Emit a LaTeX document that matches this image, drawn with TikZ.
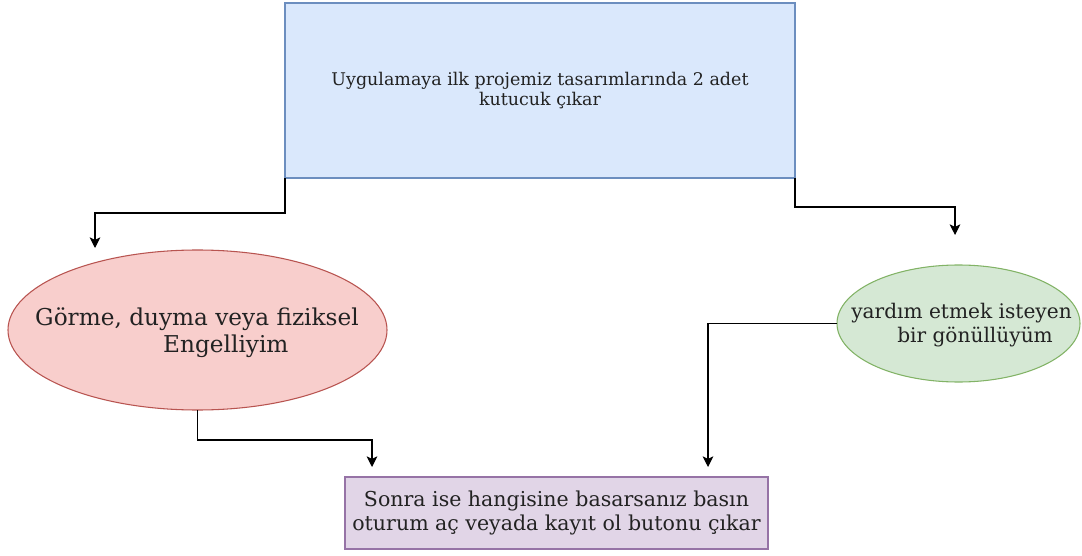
\documentclass[tikz,border=0pt]{standalone}
\usepackage{fontspec}
\setmainfont{DejaVu Serif}
\usetikzlibrary{shapes.geometric,arrows.meta}
\definecolor{bluefill}{HTML}{DAE8FC}
\definecolor{bluedraw}{HTML}{6C8EBF}
\definecolor{redfill}{HTML}{F8CECC}
\definecolor{reddraw}{HTML}{B85450}
\definecolor{greenfill}{HTML}{D5E8D4}
\definecolor{greendraw}{HTML}{82B366}
\definecolor{purplefill}{HTML}{E1D5E7}
\definecolor{purpledraw}{HTML}{9673A6}
\definecolor{txt}{HTML}{222222}
\tikzset{
  boxstyle/.style={rectangle, line width=0.8pt, inner sep=0pt, outer sep=0pt, text=txt, align=center},
  ellstyle/.style={ellipse, line width=0.8pt, inner sep=0pt, outer sep=0pt},
  labelstyle/.style={inner sep=0pt, text=txt, align=left},
  arr/.style={draw=black, line width=0.8pt, -{Stealth[length=8pt,width=8pt,inset=2pt]}},
}
\begin{document}
\begin{tikzpicture}[x=0.75pt,y=-0.75pt]
\useasboundingbox (0,0) rectangle (1082,556);
\node[boxstyle, fill=bluefill, draw=bluedraw, minimum width=382.5pt, minimum height=131.25pt,
  font=\fontsize{13.1}{15}\selectfont] (top) at (540,90.5)
  {Uygulamaya ilk projemiz tasarımlarında 2 adet\\kutucuk çıkar};
\node[ellstyle, fill=redfill, draw=reddraw, minimum width=284.25pt, minimum height=120pt] (left) at (197.5,330) {};
\node[labelstyle, font=\fontsize{17.4}{20.5}\selectfont] (lefttext) at (197,333)
  {Görme, duyma veya fiziksel\\\hspace*{96pt}Engelliyim};
\node[ellstyle, fill=greenfill, draw=greendraw, minimum width=182.25pt, minimum height=87.75pt] (right) at (958.5,323.5) {};
\node[labelstyle, font=\fontsize{15.1}{18}\selectfont] (righttext) at (961.5,325)
  {yardım etmek isteyen\\\hspace*{34.5pt}bir gönüllüyüm};
\node[boxstyle, fill=purplefill, draw=purpledraw, minimum width=317.25pt, minimum height=54pt,
  font=\fontsize{15.4}{18}\selectfont] (bottom) at (556.5,513)
  {Sonra ise hangisine basarsanız basın\\oturum aç veyada kayıt ol butonu çıkar};
\coordinate (e1) at (95,248);
\coordinate (e2) at (955,235);
\coordinate (e3) at (372,467);
\coordinate (e4) at (708,467);
\draw[arr] (top.south west) -- (285,213) -| (e1);
\draw[arr] (top.south east) -- (795,207) -| (e2);
\draw[arr] (left.south) -- (197.5,440) -| (e3);
\draw[arr] (right.west) -| (e4);
\end{tikzpicture}
\end{document}
